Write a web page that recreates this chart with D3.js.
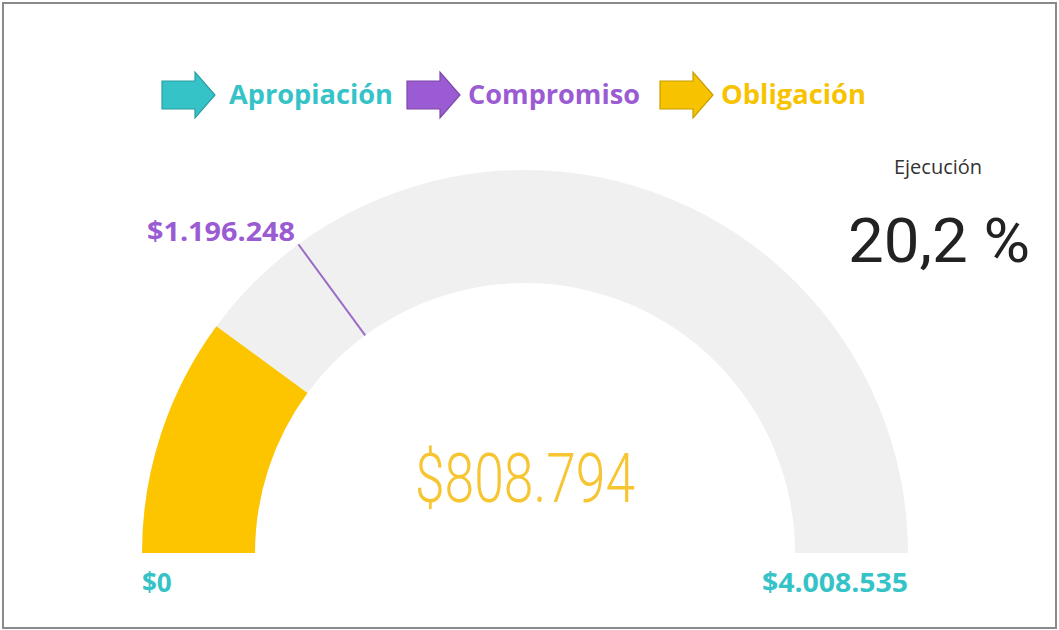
<!DOCTYPE html>
<html>
<head>
<meta charset="utf-8">
<script src="https://cdn.jsdelivr.net/npm/d3@7"></script>
<style>
  body { margin: 0; background: #fff; }
  svg { display: block; }
</style>
</head>
<body>
<div id="chart"></div>
<script>
// data
const legendNames = ["Apropiación", "Compromiso", "Obligación"];
const legendColors = ["#35c3c8", "#9a5bd3", "#f7c300"];
const gaugeMin = 0;
const gaugeMax = 4008535;
const gaugeValue = 808794;      // Obligación
const targetValue = 1196248;    // Compromiso
const ejecucionPct = 20.2;

const width = 1059, height = 630;
const fmt = d => "$" + d3.format(",")(d).replace(/,/g, ".");

const svg = d3.select("#chart").append("svg")
    .attr("width", width)
    .attr("height", height);

// frame
svg.append("rect")
    .attr("x", 3).attr("y", 3)
    .attr("width", width - 6).attr("height", height - 5)
    .attr("fill", "#fff")
    .attr("stroke", "#8a8a8a")
    .attr("stroke-width", 2);

// legend: block arrows + labels
const legendX = [162, 407, 660];
const legendTextX = [229, 468, 721];
const legendW = [164, 172, 145];
const legend = svg.append("g").attr("transform", "translate(0,95)");
legendNames.forEach((name, i) => {
    legend.append("path")
        .attr("transform", `translate(${legendX[i]},0)`)
        .attr("d", "M0,-14 L33,-14 L33,-23 L53,0 L33,23 L33,14 L0,14 Z")
        .attr("fill", legendColors[i])
        .attr("stroke", d3.color(legendColors[i]).darker(0.6))
        .attr("stroke-width", 1.2);
    legend.append("text")
        .attr("x", legendTextX[i]).attr("y", 9)
        .attr("font-family", "Open Sans, sans-serif")
        .attr("font-weight", 700)
        .attr("font-size", 26)
        .attr("textLength", legendW[i])
        .attr("lengthAdjust", "spacingAndGlyphs")
        .attr("fill", legendColors[i])
        .text(name);
});

// gauge
const cx = 525, cy = 553, rOuter = 383, rInner = 270;
const angle = d3.scaleLinear()
    .domain([gaugeMin, gaugeMax])
    .range([-Math.PI / 2, Math.PI / 2]);
const arc = d3.arc().innerRadius(rInner).outerRadius(rOuter);
const gauge = svg.append("g").attr("transform", `translate(${cx},${cy})`);

gauge.append("path")
    .attr("d", arc({startAngle: angle(gaugeMin), endAngle: angle(gaugeMax)}))
    .attr("fill", "#f1f0f0");
gauge.append("path")
    .attr("d", arc({startAngle: angle(gaugeMin), endAngle: angle(gaugeValue)}))
    .attr("fill", "#fdc500");

// target needle
const ta = angle(targetValue);
gauge.append("line")
    .attr("x1", rInner * Math.sin(ta)).attr("y1", -rInner * Math.cos(ta))
    .attr("x2", rOuter * Math.sin(ta)).attr("y2", -rOuter * Math.cos(ta))
    .attr("stroke", "#9a6cc8")
    .attr("stroke-width", 2);

const labelFont = g => g
    .attr("font-family", "Open Sans, sans-serif")
    .attr("font-weight", 700)
    .attr("font-size", 26);

svg.append("text")
    .call(labelFont)
    .attr("x", 147).attr("y", 241)
    .attr("textLength", 148)
    .attr("lengthAdjust", "spacingAndGlyphs")
    .attr("fill", "#9a5bd3")
    .text(fmt(targetValue));

// min / max labels
svg.append("text")
    .call(labelFont)
    .attr("x", cx - rOuter).attr("y", 592)
    .attr("fill", "#35c3c8")
    .text(fmt(gaugeMin));
svg.append("text")
    .call(labelFont)
    .attr("x", cx + rOuter - 146).attr("y", 592)
    .attr("textLength", 146)
    .attr("lengthAdjust", "spacingAndGlyphs")
    .attr("fill", "#35c3c8")
    .text(fmt(gaugeMax));

// center value
svg.append("text")
    .attr("x", 415).attr("y", 502)
    .attr("font-family", "Roboto, sans-serif")
    .attr("font-weight", 300)
    .attr("font-size", 68)
    .attr("textLength", 220)
    .attr("lengthAdjust", "spacingAndGlyphs")
    .attr("fill", "#f7c531")
    .text(fmt(gaugeValue));

// ejecucion card
svg.append("text")
    .attr("x", 938).attr("y", 174)
    .attr("text-anchor", "middle")
    .attr("font-family", "Open Sans, sans-serif")
    .attr("font-size", 20)
    .attr("fill", "#333")
    .text("Ejecución");
svg.append("text")
    .attr("x", 848).attr("y", 262)
    .attr("font-family", "Roboto, sans-serif")
    .attr("font-size", 62)
    .attr("textLength", 182)
    .attr("lengthAdjust", "spacingAndGlyphs")
    .attr("fill", "#222")
    .text(d3.format(".1f")(ejecucionPct).replace(".", ",") + " %");
</script>
</body>
</html>
